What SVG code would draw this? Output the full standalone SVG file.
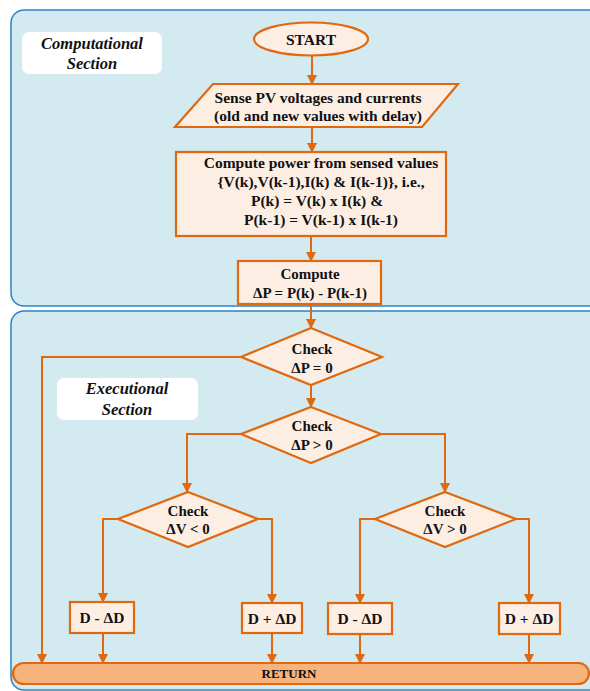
<svg xmlns="http://www.w3.org/2000/svg" width="590" height="691" viewBox="0 0 590 691">
<style>
.panel{fill:#d3eaf0;stroke:#2c83c9;stroke-width:1.5}
.lbl{fill:#ffffff;stroke:none}
.lt{font-family:"Liberation Serif",serif;font-weight:bold;font-style:italic;font-size:16.5px;text-anchor:middle;fill:#111}
.nd{fill:#fdeee4;stroke:#e0680f;stroke-width:2.2}
.t{font-family:"Liberation Serif",serif;font-weight:bold;font-size:15px;text-anchor:middle;fill:#111}
.ret{fill:#f7b37c;stroke:#e0680f;stroke-width:2.2}
.c{fill:none;stroke:#e0680f;stroke-width:2;marker-end:url(#ah)}
.cn{fill:none;stroke:#e0680f;stroke-width:2}
</style>
<defs>
<marker id="ah" markerUnits="userSpaceOnUse" markerWidth="10" markerHeight="12" refX="9" refY="5" orient="auto">
<path d="M0,0 L10,5 L0,10 Z" fill="#e0680f"/>
</marker>
</defs>
<g id="panels">
<rect class="panel" x="11" y="10" width="600" height="296" rx="13"/>
<rect class="panel" x="11" y="311" width="600" height="379" rx="13"/>
</g>
<g id="label-computational">
<rect class="lbl" x="22" y="32" width="140" height="42" rx="7"/>
<text class="lt" x="92" y="49">Computational</text>
<text class="lt" x="92" y="69">Section</text>
</g>
<g id="label-executional">
<rect class="lbl" x="57" y="378" width="141" height="42" rx="7"/>
<text class="lt" x="127" y="394">Executional</text>
<text class="lt" x="127" y="415">Section</text>
</g>
<g id="connectors">
<path class="c" d="M312,55 V84"/>
<path class="c" d="M312,127 V152"/>
<path class="c" d="M311,236 V261"/>
<path class="c" d="M311,304 V328"/>
<path class="c" d="M311,385 V407"/>
<path class="c" d="M241,357 H42 V663"/>
<path class="c" d="M241,434 H187 V492"/>
<path class="c" d="M381,434 H445 V492"/>
<path class="c" d="M118,519 H103 V602"/>
<path class="c" d="M258,519 H272 V603"/>
<path class="c" d="M375,519 H360 V603"/>
<path class="c" d="M516,519 H529 V603"/>
<path class="c" d="M103,633 V663"/>
<path class="c" d="M272,633 V663"/>
<path class="c" d="M360,634 V663"/>
<path class="c" d="M529,634 V663"/>
</g>
<g id="start">
<ellipse class="nd" cx="311" cy="39" rx="57" ry="16.5"/>
<text class="t" x="311" y="45" style="font-size:15.5px">START</text>
</g>
<g id="sense">
<polygon class="nd" points="213,84 458,84 422,127 175,127"/>
<text class="t" x="318" y="103" style="font-size:15.5px">Sense PV voltages and currents</text>
<text class="t" x="318" y="121" style="font-size:15.5px">(old and new values with delay)</text>
</g>
<g id="compute-power">
<rect class="nd" x="176" y="152" width="270" height="84"/>
<text class="t" x="321" y="168" style="font-size:15.5px">Compute power from sensed values</text>
<text class="t" x="321" y="187" style="font-size:15.5px">{V(k),V(k-1),I(k) &amp; I(k-1)}, i.e.,</text>
<text class="t" x="317" y="206" style="font-size:15.5px">P(k) = V(k) x I(k) &amp;</text>
<text class="t" x="321" y="225" style="font-size:15.5px">P(k-1) = V(k-1) x I(k-1)</text>
</g>
<g id="compute-dp">
<rect class="nd" x="238" y="261" width="143" height="43"/>
<text class="t" x="310" y="279">Compute</text>
<text class="t" x="310" y="298">ΔP = P(k) - P(k-1)</text>
</g>
<g id="check-dp0">
<polygon class="nd" points="311,328 382,357 311,385 241,357"/>
<text class="t" x="312" y="354">Check</text>
<text class="t" x="312" y="373">ΔP = 0</text>
</g>
<g id="check-dpgt0">
<polygon class="nd" points="311,407 381,434 311,463 241,434"/>
<text class="t" x="312" y="431">Check</text>
<text class="t" x="312" y="450">ΔP &gt; 0</text>
</g>
<g id="check-dvlt0">
<polygon class="nd" points="188,492 258,519 188,547 118,519"/>
<text class="t" x="188" y="516">Check</text>
<text class="t" x="188" y="534">ΔV &lt; 0</text>
</g>
<g id="check-dvgt0">
<polygon class="nd" points="445,492 516,519 445,547 375,519"/>
<text class="t" x="445" y="516">Check</text>
<text class="t" x="445" y="534">ΔV &gt; 0</text>
</g>
<g id="d-minus-1">
<rect class="nd" x="70" y="602" width="64" height="31"/>
<text class="t" x="102" y="623" style="font-size:15.5px">D - ΔD</text>
</g>
<g id="d-plus-1">
<rect class="nd" x="242" y="603" width="60" height="30"/>
<text class="t" x="272" y="624" style="font-size:15.5px">D + ΔD</text>
</g>
<g id="d-minus-2">
<rect class="nd" x="328" y="603" width="64" height="31"/>
<text class="t" x="360" y="624" style="font-size:15.5px">D - ΔD</text>
</g>
<g id="d-plus-2">
<rect class="nd" x="499" y="603" width="61" height="31"/>
<text class="t" x="529" y="624" style="font-size:15.5px">D + ΔD</text>
</g>
<g id="return">
<rect class="ret" x="13" y="663" width="576" height="21" rx="10.5"/>
<text class="t" x="289" y="678" style="font-size:13px">RETURN</text>
</g>
</svg>
